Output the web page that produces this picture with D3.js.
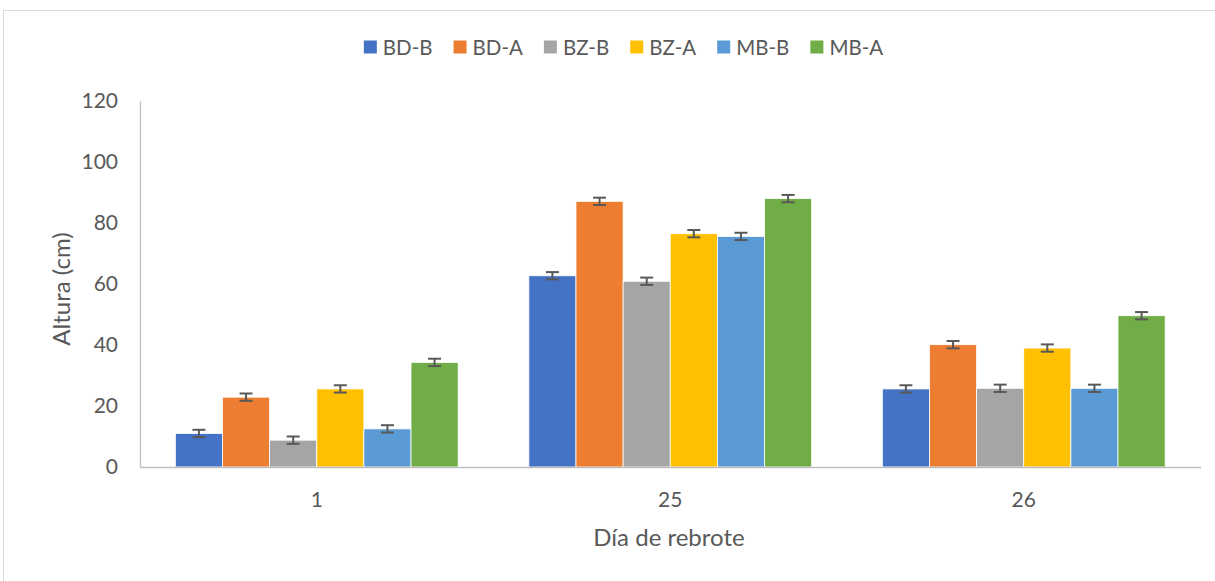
<!DOCTYPE html>
<html><head><meta charset="utf-8">
<script src="https://cdn.jsdelivr.net/npm/d3@7"></script>
<style>body{margin:0;background:#fff;font-family:Lato,"Open Sans",sans-serif;}</style>
</head><body><svg id="c" width="1215" height="581"></svg>
<script>
const categories = ["1", "25", "26"];
const seriesNames = ["BD-B", "BD-A", "BZ-B", "BZ-A", "MB-B", "MB-A"];
const seriesColors = ["#4472C4", "#ED7D31", "#A5A5A5", "#FFC000", "#5B9BD5", "#70AD47"];
const BD_B = [11.0, 62.7, 25.6];
const BD_A = [22.9, 87.1, 40.1];
const BZ_B = [8.8, 60.9, 25.8];
const BZ_A = [25.6, 76.5, 39.0];
const MB_B = [12.5, 75.6, 25.8];
const MB_A = [34.3, 88.0, 49.6];
const errors = [1.2, 1.2, 1.2, 1.2, 1.2, 1.2];
const yTicks = [0, 20, 40, 60, 80, 100, 120];
const seriesValues = [BD_B, BD_A, BZ_B, BZ_A, MB_B, MB_A];

const svg = d3.select("#c");
svg.append("rect").attr("x", 3.5).attr("y", 10.5).attr("width", 1230).attr("height", 600)
  .attr("fill", "none").attr("stroke", "#d9d9d9").attr("stroke-width", 1);

const pL = 140, pR = 1200.5, pT = 101, pB = 467;
const x0 = d3.scaleBand().domain(categories).range([pL, pR]).padding(0);
const x1 = d3.scaleBand().domain(seriesNames).range([x0.bandwidth() * 0.1, x0.bandwidth() * 0.9]).padding(0);
const y = d3.scaleLinear().domain([0, 120]).range([pB, pT]);

seriesNames.forEach((s, si) => {
  const g = svg.append("g");
  g.selectAll("rect").data(categories).join("rect")
    .attr("x", c => x0(c) + x1(s))
    .attr("y", (c, i) => y(seriesValues[si][i]))
    .attr("width", x1.bandwidth())
    .attr("height", (c, i) => y(0) - y(seriesValues[si][i]))
    .attr("fill", seriesColors[si])
    .attr("stroke", "#fff").attr("stroke-width", 0.8);
});
seriesNames.forEach((s, si) => {
  categories.forEach((c, i) => {
    const cx = x0(c) + x1(s) + x1.bandwidth() / 2;
    const v = seriesValues[si][i], e = errors[si];
    const eg = svg.append("g").attr("stroke", "#595959").attr("stroke-width", 2);
    eg.append("line").attr("x1", cx).attr("x2", cx).attr("y1", y(v + e)).attr("y2", y(v - e));
    eg.append("line").attr("x1", cx - 6.5).attr("x2", cx + 6.5).attr("y1", y(v + e)).attr("y2", y(v + e));
    eg.append("line").attr("x1", cx - 6.5).attr("x2", cx + 6.5).attr("y1", y(v - e)).attr("y2", y(v - e));
  });
});

const yAxis = d3.axisLeft(y).tickValues(yTicks).tickSize(0).tickPadding(22);
const ya = svg.append("g").attr("transform", `translate(${pL},0)`).call(yAxis);
ya.select(".domain").attr("stroke", "#bfbfbf").attr("stroke-width", 1.3);
ya.selectAll("text").attr("fill", "#595959").attr("font-size", 21).attr("font-family", "Lato, sans-serif");

const xAxis = d3.axisBottom(x0).tickSize(0).tickPadding(25);
const xa = svg.append("g").attr("transform", `translate(0,${pB})`).call(xAxis);
xa.select(".domain").attr("stroke", "#bfbfbf").attr("stroke-width", 1.5);
xa.selectAll("text").attr("fill", "#595959").attr("font-size", 21).attr("font-family", "Lato, sans-serif");

svg.append("text").attr("transform", `translate(70,${(pT + pB) / 2 + 5}) rotate(-90)`)
  .attr("text-anchor", "middle").attr("fill", "#595959").attr("font-size", 24).text("Altura (cm)");
svg.append("text").attr("x", 669).attr("y", 546)
  .attr("text-anchor", "middle").attr("fill", "#595959").attr("font-size", 24).text("Día de rebrote");

const lg = svg.append("g");
let lx = 0;
seriesNames.forEach((s, i) => {
  const it = lg.append("g").attr("transform", `translate(${lx},0)`);
  it.append("rect").attr("x", 0).attr("y", -6.5).attr("width", 13).attr("height", 13).attr("fill", seriesColors[i]);
  const t = it.append("text").attr("x", 19).attr("y", 7.5).attr("fill", "#595959").attr("font-size", 20.5).text(s);
  lx += 19 + t.node().getComputedTextLength() + 21;
});
const lw = lx - 21;
lg.attr("transform", `translate(${623.5 - lw / 2},47)`);
</script></body></html>
